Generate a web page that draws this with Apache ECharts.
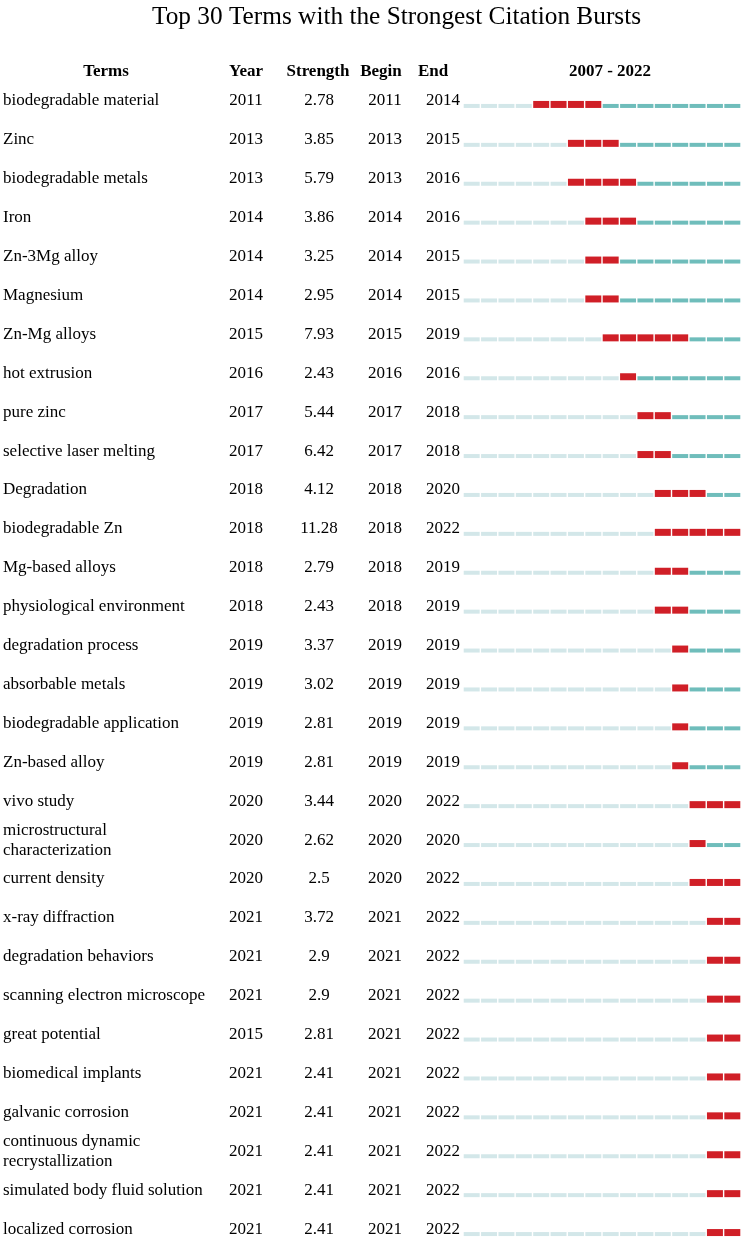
<!DOCTYPE html>
<html lang="en">
<head>
    <meta charset="UTF-8">
    <title>Top 30 Terms with the Strongest Citation Bursts</title>
    <script src="https://cdn.jsdelivr.net/npm/echarts@6/dist/echarts.min.js"></script>
    <style>
        html, body { margin: 0; padding: 0; background: #fff; }
        #main { width: 742px; height: 1239px; }
    </style>
</head>
<body>
    <div id="main"></div>
    <script>
        var terms = [
            'biodegradable material', 'Zinc', 'biodegradable metals', 'Iron', 'Zn-3Mg alloy',
            'Magnesium', 'Zn-Mg alloys', 'hot extrusion', 'pure zinc', 'selective laser melting',
            'Degradation', 'biodegradable Zn', 'Mg-based alloys', 'physiological environment', 'degradation process',
            'absorbable metals', 'biodegradable application', 'Zn-based alloy', 'vivo study', 'microstructural\ncharacterization',
            'current density', 'x-ray diffraction', 'degradation behaviors', 'scanning electron microscope', 'great potential',
            'biomedical implants', 'galvanic corrosion', 'continuous dynamic\nrecrystallization', 'simulated body fluid solution', 'localized corrosion'
        ];
        var years = [2011, 2013, 2013, 2014, 2014, 2014, 2015, 2016, 2017, 2017,
            2018, 2018, 2018, 2018, 2019, 2019, 2019, 2019, 2020, 2020,
            2020, 2021, 2021, 2021, 2015, 2021, 2021, 2021, 2021, 2021];
        var strengths = ['2.78', '3.85', '5.79', '3.86', '3.25', '2.95', '7.93', '2.43', '5.44', '6.42',
            '4.12', '11.28', '2.79', '2.43', '3.37', '3.02', '2.81', '2.81', '3.44', '2.62',
            '2.5', '3.72', '2.9', '2.9', '2.81', '2.41', '2.41', '2.41', '2.41', '2.41'];
        var begins = [2011, 2013, 2013, 2014, 2014, 2014, 2015, 2016, 2017, 2017,
            2018, 2018, 2018, 2018, 2019, 2019, 2019, 2019, 2020, 2020,
            2020, 2021, 2021, 2021, 2021, 2021, 2021, 2021, 2021, 2021];
        var ends = [2014, 2015, 2016, 2016, 2015, 2015, 2019, 2016, 2018, 2018,
            2020, 2022, 2019, 2019, 2019, 2019, 2019, 2019, 2022, 2020,
            2022, 2022, 2022, 2022, 2022, 2022, 2022, 2022, 2022, 2022];
        var timeline = ['2007', '2008', '2009', '2010', '2011', '2012', '2013', '2014',
            '2015', '2016', '2017', '2018', '2019', '2020', '2021', '2022'];

        // 0 = before burst, 1 = burst, 2 = after burst
        var segColors = ['#d3e7e9', '#d01f27', '#6fbdbb'];
        var font = 'Liberation Serif, Times New Roman, serif';

        var cells = [];
        terms.forEach(function (t, r) {
            timeline.forEach(function (y, i) {
                var yr = +y;
                var st = yr < begins[r] ? 0 : (yr <= ends[r] ? 1 : 2);
                cells.push([i, r, st]);
            });
        });

        function renderSeg(params, api) {
            var c = api.coord([api.value(0), api.value(1)]);
            var w = api.size([1, 0])[0];
            var st = api.value(2);
            var h = st === 1 ? 7 : 4;
            return {
                type: 'rect',
                shape: { x: c[0] - w / 2 + 0.7, y: c[1] + 7 - h, width: w - 1.4, height: h },
                style: { fill: segColors[st] }
            };
        }

        // one category axis per text column, all sharing the same rows
        function colAxis(margin, align, pick) {
            return {
                type: 'category',
                data: terms,
                inverse: true,
                position: 'left',
                axisLine: { show: false },
                axisTick: { show: false },
                splitLine: { show: false },
                axisLabel: {
                    interval: 0,
                    margin: margin,
                    align: align,
                    fontFamily: font,
                    fontSize: 17,
                    lineHeight: 20,
                    color: '#000',
                    formatter: function (v, i) { return pick(v, i); }
                }
            };
        }

        function header(x, txt) {
            return {
                type: 'text', x: x, y: 72,
                style: { text: txt, align: 'center', verticalAlign: 'middle', font: 'bold 17px ' + font, fill: '#000' }
            };
        }

        var myChart = echarts.init(document.getElementById('main'));
        var option = {
            backgroundColor: '#fff',
            animation: false,
            title: {
                text: 'Top 30 Terms with the Strongest Citation Bursts',
                left: 147,
                top: 0,
                textStyle: { fontFamily: font, fontSize: 25.3, fontWeight: 'normal', color: '#000' }
            },
            graphic: [
                header(106, 'Terms'),
                header(246, 'Year'),
                header(318, 'Strength'),
                header(381, 'Begin'),
                header(433, 'End'),
                header(610, timeline[0] + ' - ' + timeline[timeline.length - 1])
            ],
            grid: {
                left: 463, top: 81.5, width: 278, height: 1167,
                containLabel: false,
                outerBoundsMode: 'none'
            },
            xAxis: {
                type: 'category',
                data: timeline,
                show: false
            },
            yAxis: [
                colAxis(460, 'left', function (v) { return v; }),
                colAxis(217, 'center', function (v, i) { return String(years[i]); }),
                colAxis(144, 'center', function (v, i) { return strengths[i]; }),
                colAxis(78, 'center', function (v, i) { return String(begins[i]); }),
                colAxis(20, 'center', function (v, i) { return String(ends[i]); })
            ],
            series: [{
                type: 'custom',
                renderItem: renderSeg,
                encode: { x: 0, y: 1 },
                data: cells
            }]
        };
        myChart.setOption(option);
    </script>
</body>
</html>
